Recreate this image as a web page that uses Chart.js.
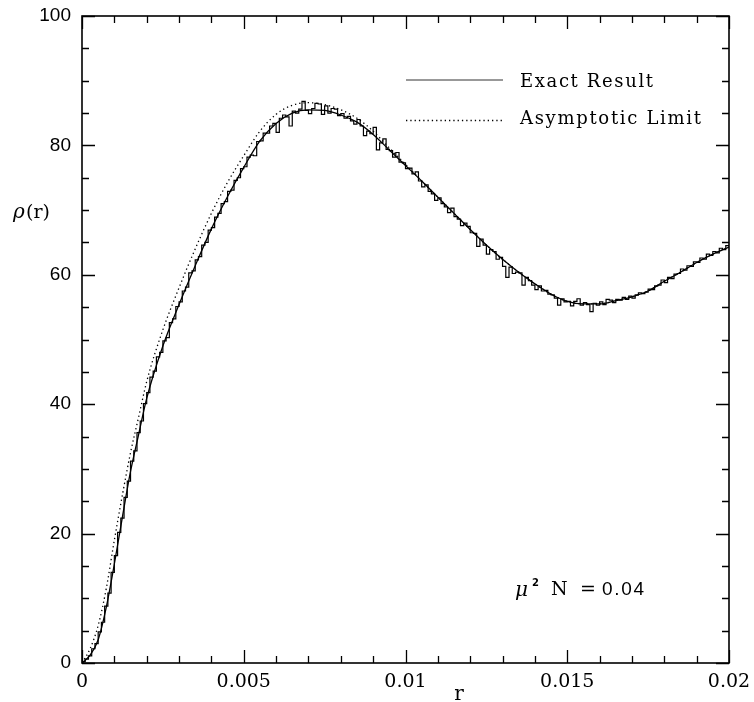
<!DOCTYPE html>
<html><head><meta charset="utf-8">
<script src="https://cdn.jsdelivr.net/npm/chart.js@4.4.0/dist/chart.umd.min.js"></script>
<style>html,body{margin:0;padding:0;background:#fff;}#wrap{width:754px;height:702px;position:relative;}canvas{display:block;}</style>
</head><body><div id="wrap"><canvas id="c" width="754" height="702"></canvas></div>
<script>
// ---- data ----
const binWidth = 0.0001;          // histogram bin width in r
const histValues = [
 0.2,0.6,1.1,2.2,3.0,4.8,6.3,8.8,10.8,14.0,
 16.6,20.2,22.4,25.6,28.1,31.2,32.8,35.6,37.4,40.1,
 41.8,44.2,45.1,47.3,48.0,49.8,50.3,52.6,53.2,55.1,
 55.8,57.5,58.1,60.3,60.6,62.3,62.8,64.6,65.0,66.9,
 67.3,68.9,69.5,71.0,71.3,72.9,73.1,74.6,75.0,76.4,
 76.7,78.2,78.5,78.4,80.6,80.7,81.9,81.9,83.0,83.4,
 82.0,84.2,84.7,84.4,83.0,85.3,85.0,85.6,86.8,85.4,
 84.9,85.7,86.5,86.4,84.8,86.1,85.0,85.7,85.6,84.6,
 84.9,84.2,84.5,83.8,83.3,84.0,83.0,81.5,82.2,81.8,
 82.8,79.3,80.4,81.0,79.4,79.2,78.2,78.9,77.4,77.3,
 76.4,76.5,75.6,75.9,74.5,73.6,73.9,72.9,72.5,71.5,
 71.9,71.0,70.5,69.6,70.3,69.0,68.6,67.6,68.0,67.5,
 66.5,66.4,64.4,65.5,64.6,63.2,63.9,63.6,62.4,62.7,
 61.3,59.6,61.2,60.2,60.4,60.3,58.4,59.6,59.1,58.4,
 57.7,58.3,57.5,57.6,57.0,56.9,56.4,55.3,56.3,55.8,
 55.9,55.2,55.9,56.3,55.3,55.7,55.4,54.3,55.6,55.3,
 55.8,55.4,56.2,56.1,55.7,56.2,56.1,56.5,56.2,56.7,
 56.4,56.9,57.2,57.1,57.3,57.8,57.7,58.3,58.4,59.2,
 58.8,59.6,59.4,60.1,60.2,60.9,60.7,61.4,61.3,62.0,
 61.9,62.6,62.4,63.2,63.0,63.6,63.4,64.1,63.9,64.5
];
const exactR = [0,0.00025,0.0005,0.00075,0.001,0.00125,0.0015,0.00175,0.002,0.0025,0.003,0.0035,0.004,0.0045,0.005,0.0055,0.006,0.0065,0.007,0.0075,0.008,0.0085,0.009,0.0095,0.01,0.0105,0.011,0.0115,0.012,0.0125,0.013,0.0135,0.014,0.0145,0.015,0.0155,0.016,0.0165,0.017,0.0175,0.018,0.0185,0.019,0.0195,0.02];
const exactRho = [0,1.2,3.6,8.6,15.3,22.6,29.6,35.3,40.9,49.0,55.4,61.4,67.1,72.1,76.6,80.7,83.4,85.0,85.5,85.4,84.7,83.6,81.7,79.3,76.9,74.5,72.0,69.5,67.0,64.6,62.4,60.4,58.6,57.0,55.9,55.5,55.5,56.0,56.6,57.5,59.0,60.4,61.9,63.2,64.3];
const asymR = [0,0.00025,0.0005,0.00075,0.001,0.00125,0.0015,0.00175,0.002,0.0025,0.003,0.0035,0.004,0.0045,0.005,0.0055,0.006,0.0065,0.007,0.0075,0.008,0.0085,0.009,0.0095,0.01,0.0105,0.011,0.0115,0.012,0.0125,0.013,0.0135,0.014,0.0145,0.015,0.0155,0.016,0.0165,0.017,0.0175,0.018,0.0185,0.019,0.0195,0.02];
const asymRho = [0,2.2,5.8,11.5,19.0,26.0,32.5,38.0,43.5,51.5,58.0,64.0,69.5,74.3,78.4,82.2,84.8,86.2,86.6,86.3,85.5,84.2,82.2,79.6,77.1,74.5,72.0,69.5,67.0,64.6,62.4,60.4,58.6,57.0,55.9,55.5,55.5,56.0,56.6,57.5,59.0,60.4,61.9,63.2,64.3];
const xTickLabels = ['0','0.005','0.01','0.015','0.02'];
const yTickLabels = ['0','20','40','60','80','100'];
const legendLabels = ['Exact Result','Asymptotic Limit'];
const xTitle = 'r';
const noteValue = '0.04';

// ---- build library data ----
const histPoints = histValues.map((v,i)=>({x:i*binWidth, y:v}));
histPoints.push({x:histValues.length*binWidth, y:histValues[histValues.length-1]});
const exactPoints = exactR.map((r,i)=>({x:r,y:exactRho[i]}));
const asymPoints = asymR.map((r,i)=>({x:r,y:asymRho[i]}));

function spaced(ctx, text, x, y, width){
  ctx.letterSpacing = '0px';
  const w = ctx.measureText(text).width;
  const n = text.length;
  const ls = n>1 ? (width - w)/(n-1) : 0;
  ctx.letterSpacing = ls.toFixed(2)+'px';
  ctx.fillText(text, x, y);
  ctx.letterSpacing = '0px';
}

const deco = {
  id:'deco',
  afterDraw(chart){
    const ctx = chart.ctx, a = chart.chartArea, xs = chart.scales.x, ys = chart.scales.y;
    ctx.save();
    ctx.strokeStyle = '#000'; ctx.lineWidth = 1.3;
    ctx.beginPath();
    for (let k=0;k<=20;k++){
      const v = k*0.001, px = Math.round(xs.getPixelForValue(v))+0.5;
      const L = (k%5===0)?13:7;
      ctx.moveTo(px,a.bottom); ctx.lineTo(px,a.bottom-L);
      ctx.moveTo(px,a.top); ctx.lineTo(px,a.top+L);
    }
    for (let k=0;k<=20;k++){
      const v = k*5, py = Math.round(ys.getPixelForValue(v))+0.5;
      const L = (k%4===0)?13:7;
      ctx.moveTo(a.left,py); ctx.lineTo(a.left+L,py);
      ctx.moveTo(a.right,py); ctx.lineTo(a.right-L,py);
    }
    ctx.stroke();
    ctx.lineWidth = 1.6;
    ctx.strokeRect(a.left, a.top, a.right-a.left, a.bottom-a.top);
    // legend
    ctx.fillStyle = '#000';
    ctx.strokeStyle = '#333'; ctx.lineWidth = 1; ctx.setLineDash([]);
    ctx.beginPath(); ctx.moveTo(406,80); ctx.lineTo(503,80); ctx.stroke();
    ctx.strokeStyle = '#000'; ctx.lineWidth = 1.3; ctx.setLineDash([1.3,3]);
    ctx.beginPath(); ctx.moveTo(406,120.5); ctx.lineTo(503,120.5); ctx.stroke();
    ctx.setLineDash([]);
    ctx.font = '18px "DejaVu Serif"'; ctx.textBaseline = 'alphabetic'; ctx.textAlign='left';
    spaced(ctx, legendLabels[0], 520, 87, 133);
    spaced(ctx, legendLabels[1], 520, 124, 181);
    // y title
    ctx.font = 'italic 20px "DejaVu Serif"';
    ctx.fillText('\u03C1', 13, 218);
    ctx.font = '19px "DejaVu Serif"';
    ctx.fillText('(r)', 26, 218);
    // x title
    ctx.font = '20px "DejaVu Serif"';
    ctx.textAlign='center';
    ctx.fillText(xTitle, 459, 700);
    ctx.textAlign='left';
    // annotation
    ctx.font = 'italic 20px "DejaVu Serif"';
    ctx.fillText('\u03BC', 515, 596);
    ctx.font = 'bold 10px "DejaVu Sans"';
    ctx.fillText('2', 532, 586);
    ctx.font = '19px "DejaVu Serif"';
    ctx.fillText('N', 551, 595);
    ctx.fillText('=', 580, 595);
    ctx.font = '19px "Liberation Sans"';
    spaced(ctx, noteValue, 602, 595, 42);
    ctx.restore();
  }
};

new Chart(document.getElementById('c'), {
  type:'line',
  data:{ datasets:[
    {label:legendLabels[0], data:exactPoints, borderColor:'#000', borderWidth:1.3, pointRadius:0, cubicInterpolationMode:'monotone', fill:false},
    {label:legendLabels[1], data:asymPoints, borderColor:'#000', borderWidth:1.3, borderDash:[1.3,3], pointRadius:0, cubicInterpolationMode:'monotone', fill:false},
    {label:'histogram', data:histPoints, borderColor:'#000', borderWidth:1.2, pointRadius:0, stepped:true, fill:false}
  ]},
  options:{
    responsive:false, animation:false, devicePixelRatio:1,
    layout:{padding:{top:16,right:25,left:0,bottom:0}},
    plugins:{legend:{display:false}, tooltip:{enabled:false}},
    scales:{
      x:{type:'linear', min:0, max:0.02,
        grid:{display:false, drawTicks:false}, border:{display:false},
        afterFit(s){ s.height = 39; s.paddingLeft = 0; s.paddingRight = 0; },
        afterBuildTicks(s){ s.ticks = [0,0.005,0.01,0.015,0.02].map(v=>({value:v})); },
        ticks:{padding:8, color:'#000', maxRotation:0, autoSkip:false, font:{family:'DejaVu Serif', size:19},
          callback:(v,i)=>xTickLabels[i]}},
      y:{type:'linear', min:0, max:100,
        grid:{display:false, drawTicks:false}, border:{display:false},
        afterFit(s){ s.width = 82; s.paddingTop = 0; s.paddingBottom = 0; },
        afterBuildTicks(s){ s.ticks = [0,20,40,60,80,100].map(v=>({value:v})); },
        ticks:{padding:11, color:'#000', font:{family:'Liberation Sans', size:19},
          callback:(v,i)=>yTickLabels[i]}}
    }
  },
  plugins:[deco]
});
</script></body></html>
